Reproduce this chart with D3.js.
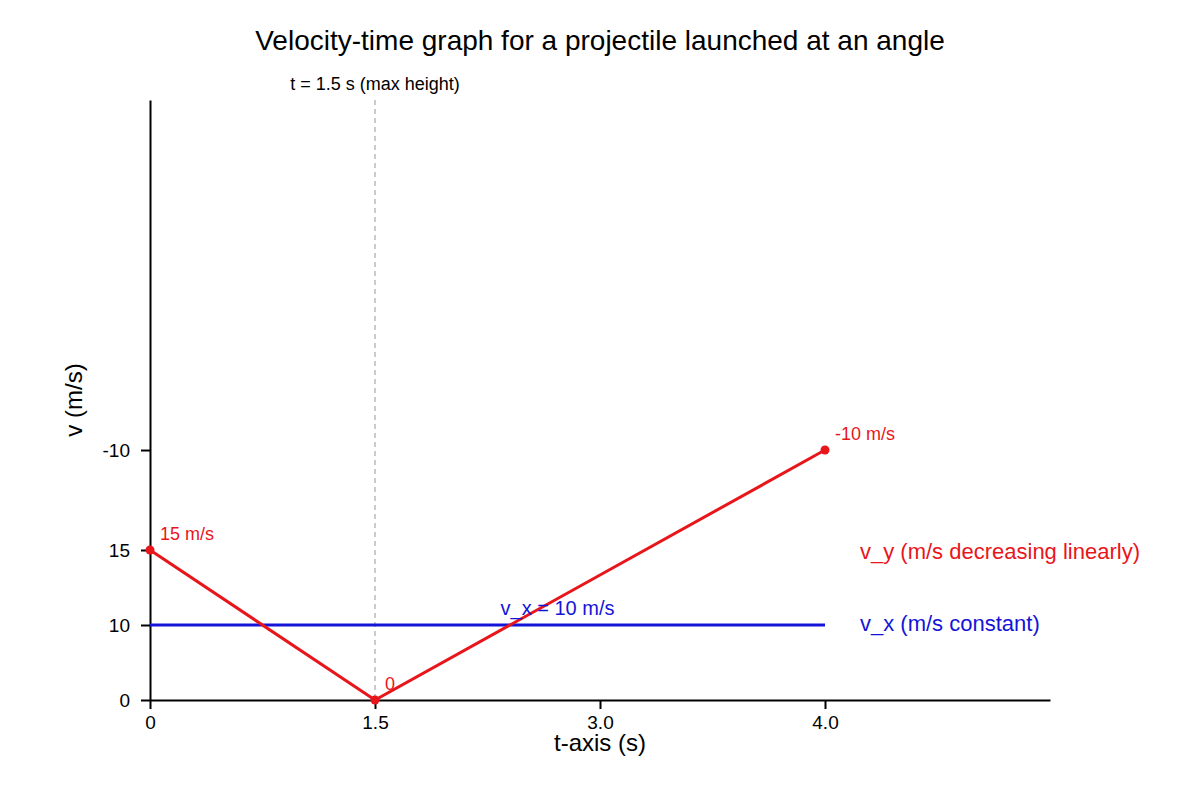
<!DOCTYPE html>
<html>
<head>
<meta charset="utf-8">
<script src="https://cdn.jsdelivr.net/npm/d3@7"></script>
<style>
  body { margin: 0; background: #fff; }
  text { font-family: "Liberation Sans", Arial, sans-serif; }
</style>
</head>
<body>
<div id="chart"></div>
<script>
// data
var tTicks = [0, 1.5, 3.0, 4.0];
var tTickLabels = ["0", "1.5", "3.0", "4.0"];
var vTicks = [0, 10, 15, -10];
// neither axis is linear in the picture: each tick value gets its own slot
var tSlots = [0, 1, 2, 3];
var vSlots = [0, 10, 20, 33.33];
var vyTimes = [0, 1.5, 4.0];
var vyValues = [15, 0, -10];
var vyLabels = ["15 m/s", "0", "-10 m/s"];
var vxTimes = [0, 4.0];
var vxValues = [10, 10];

var width = 1200, height = 800;
var red = "#e8161b", blue = "#1414d8";

var svg = d3.select("#chart")
    .append("svg")
    .attr("width", width)
    .attr("height", height);

var tSlot = d3.scaleOrdinal().domain(tTicks).range(tSlots);
var xLin = d3.scaleLinear().domain([0, 4]).range([150, 1050]);
var x = function(t) { return xLin(tSlot(t)); };

var vSlot = d3.scaleOrdinal().domain(vTicks).range(vSlots);
var yLin = d3.scaleLinear().domain([0, 80]).range([700, 100]);
var y = function(v) { return yLin(vSlot(v)); };

// title
svg.append("text")
    .attr("x", 600).attr("y", 50)
    .attr("text-anchor", "middle")
    .style("font-size", "28px")
    .text("Velocity-time graph for a projectile launched at an angle");

// dashed marker at max height
svg.append("line")
    .attr("x1", x(1.5)).attr("x2", x(1.5))
    .attr("y1", yLin(80)).attr("y2", yLin(0))
    .style("stroke", "#bbb")
    .style("stroke-width", 1.5)
    .style("stroke-dasharray", "5,4");

svg.append("text")
    .attr("x", x(1.5)).attr("y", 90)
    .attr("text-anchor", "middle")
    .style("font-size", "18px")
    .text("t = 1.5 s (max height)");

// axes
var xAxis = d3.axisBottom(xLin)
    .tickValues(tSlots)
    .tickFormat(function(d, i) { return tTickLabels[i]; })
    .tickSize(9)
    .tickSizeOuter(0);

var gx = svg.append("g")
    .attr("transform", "translate(0," + yLin(0) + ")")
    .call(xAxis);

var yAxis = d3.axisLeft(yLin)
    .tickValues(vSlots)
    .tickFormat(function(d, i) { return vTicks[i]; })
    .tickSize(9)
    .tickSizeOuter(0);

var gy = svg.append("g")
    .attr("transform", "translate(" + xLin(0) + ",0)")
    .call(yAxis);

[gx, gy].forEach(function(g) {
    g.select(".domain").style("stroke", "#000").style("stroke-width", 2);
    g.selectAll(".tick line").style("stroke", "#000").style("stroke-width", 2);
    g.selectAll(".tick text")
        .style("font-size", "19px")
        .style("font-family", "'Liberation Sans', Arial, sans-serif")
        .style("fill", "#000");
});
gx.selectAll(".tick text").attr("y", 29).attr("dy", null);
gy.selectAll(".tick text").attr("x", -20);

// axis titles
svg.append("text")
    .attr("x", 600).attr("y", 751)
    .attr("text-anchor", "middle")
    .style("font-size", "24px")
    .text("t-axis (s)");

svg.append("text")
    .attr("transform", "translate(82,400) rotate(-90)")
    .attr("text-anchor", "middle")
    .style("font-size", "24px")
    .text("v (m/s)");

// v_x line
var vx = vxTimes.map(function(t, i) { return [t, vxValues[i]]; });
svg.append("path")
    .datum(vx)
    .attr("d", d3.line()
        .x(function(d) { return x(d[0]); })
        .y(function(d) { return y(d[1]); }))
    .style("fill", "none")
    .style("stroke", blue)
    .style("stroke-width", 3);

// v_y line
var vy = vyTimes.map(function(t, i) { return [t, vyValues[i], vyLabels[i]]; });
svg.append("path")
    .datum(vy)
    .attr("d", d3.line()
        .x(function(d) { return x(d[0]); })
        .y(function(d) { return y(d[1]); }))
    .style("fill", "none")
    .style("stroke", red)
    .style("stroke-width", 3);

svg.selectAll(".vy-dot")
    .data(vy)
    .enter().append("circle")
    .attr("class", "vy-dot")
    .attr("cx", function(d) { return x(d[0]); })
    .attr("cy", function(d) { return y(d[1]); })
    .attr("r", 4.5)
    .style("fill", red);

svg.selectAll(".vy-label")
    .data(vy)
    .enter().append("text")
    .attr("class", "vy-label")
    .attr("x", function(d) { return x(d[0]) + 10; })
    .attr("y", function(d) { return y(d[1]) - 10; })
    .style("font-size", "18px")
    .style("fill", red)
    .text(function(d) { return d[2]; });

// label sits halfway along the v_x line
svg.append("text")
    .attr("x", (x(vxTimes[0]) + x(vxTimes[1])) / 2 + 70).attr("y", y(10) - 10)
    .attr("text-anchor", "middle")
    .style("font-size", "20px")
    .style("fill", blue)
    .text("v_x = 10 m/s");

// right-hand labels
svg.append("text")
    .attr("x", 860).attr("y", y(15) + 9)
    .style("font-size", "22px")
    .style("fill", red)
    .text("v_y (m/s decreasing linearly)");

svg.append("text")
    .attr("x", 860).attr("y", y(10) + 6)
    .style("font-size", "22px")
    .style("fill", blue)
    .text("v_x (m/s constant)");
</script>
</body>
</html>
